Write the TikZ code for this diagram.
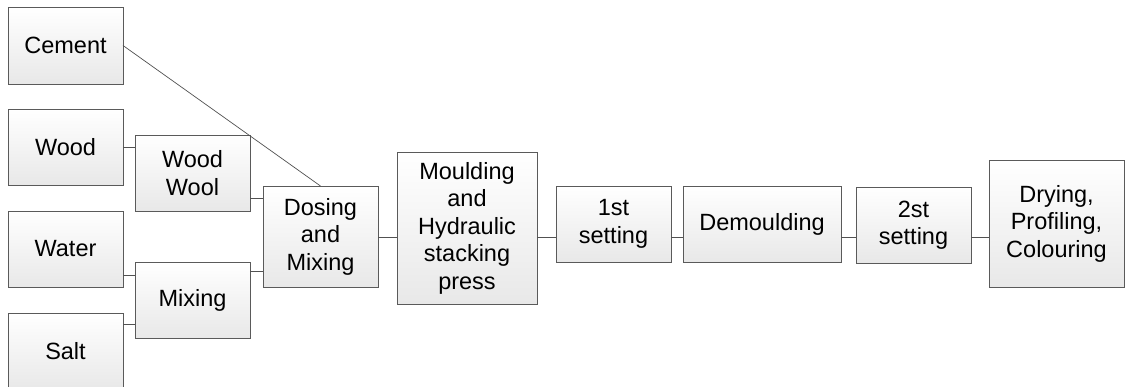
\documentclass[tikz,border=0pt]{standalone}
\usepackage{fontspec}
\setmainfont{Liberation Sans}
\usepackage{xcolor}
\usepackage{tikz}

\definecolor{edge}{HTML}{5A5A5A}
\definecolor{boxbot}{HTML}{E8E8E8}

\begin{document}
\begin{tikzpicture}[x=1pt, y=-1pt,
  box/.style={draw=edge, line width=0.8pt, top color=white, bottom color=boxbot, align=center, inner sep=0pt, outer sep=0pt, font=\fontsize{23.5}{27.5}\selectfont},
  link/.style={draw=edge!90!black, line width=0.7pt}]
  \useasboundingbox (0,0) rectangle (1126,387);
  % raw materials
  \node[box, minimum width=115, minimum height=77](cement) at (65.5,45.5) {Cement};
  \node[box, minimum width=115, minimum height=76](wood) at (65.5,147) {Wood};
  \node[box, minimum width=115, minimum height=76](water) at (65.5,249) {Water};
  \node[box, minimum width=115, minimum height=77](salt) at (65.5,351.5) {Salt};
  % preparation
  \node[box, minimum width=115, minimum height=76](woodwool) at (192.5,173) {Wood\\Wool};
  \node[box, minimum width=115, minimum height=76](mixing) at (192.5,300) {Mixing};
  \node[box, minimum width=115, minimum height=101](dosing) at (320.5,236.5) {Dosing\\and\\Mixing};
  % production line
  \node[box, minimum width=140, minimum height=152](moulding) at (467,228) {Moulding\\and\\Hydraulic\\stacking\\press};
  \node[box, minimum width=115, minimum height=76](first) at (613.5,224) {1st\\setting};
  \node[box, minimum width=158, minimum height=76](demoulding) at (762,224) {Demoulding};
  \node[box, minimum width=115, minimum height=76](second) at (913.5,225) {2st\\setting};
  \node[box, minimum width=135, minimum height=127](drying) at (1056.5,223.5) {Drying,\\Profiling,\\Colouring};
  \coordinate (spine) at (0,237);

  \draw[link] (cement.east) -- (dosing.north);
  \draw[link] (wood.east) -- (wood.east -| woodwool.west);
  \draw[link] (woodwool.east |- 0,198) -- (dosing.west |- 0,198);
  \draw[link] (water.east |- 0,275) -- (mixing.west |- 0,275);
  \draw[link] (salt.east |- 0,324) -- (mixing.west |- 0,324);
  \draw[link] (mixing.east |- 0,271) -- (dosing.west |- 0,271);
  \draw[link] (dosing.east |- spine) -- (moulding.west |- spine);
  \draw[link] (moulding.east |- spine) -- (first.west |- spine);
  \draw[link] (first.east |- spine) -- (demoulding.west |- spine);
  \draw[link] (demoulding.east |- spine) -- (second.west |- spine);
  \draw[link] (second.east |- spine) -- (drying.west |- spine);
\end{tikzpicture}
\end{document}
